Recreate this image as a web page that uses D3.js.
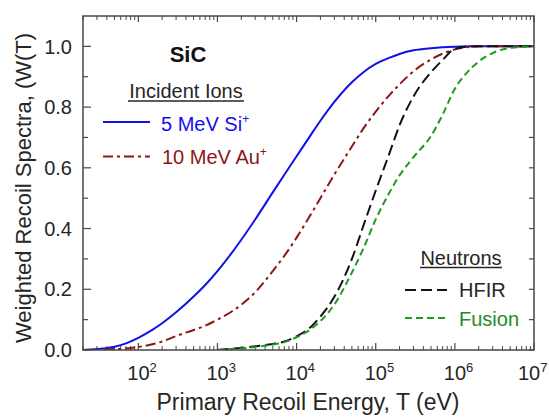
<!DOCTYPE html>
<html>
<head>
<meta charset="utf-8">
<script src="https://cdn.jsdelivr.net/npm/d3@7"></script>
<style>
  html, body { margin: 0; padding: 0; background: #fff; }
  svg { display: block; font-family: "Liberation Sans", Arial, sans-serif; }
</style>
</head>
<body>
<svg id="chart" width="549" height="419"></svg>
<script>
// Recoil energy grid (eV)
const energy = [20, 30, 50, 70, 1e2, 1.5e2, 2e2, 3e2, 5e2, 7e2,
  1e3, 1.5e3, 2e3, 3e3, 5e3, 7e3, 1e4, 1.5e4, 2e4, 3e4, 5e4, 7e4,
  1e5, 1.5e5, 2e5, 3e5, 5e5, 7e5, 1e6, 1.5e6, 2e6, 3e6, 5e6, 1e7];

// Weighted recoil spectra W(T)
const si5MeV = [0, 0.003, 0.011, 0.022, 0.04, 0.066, 0.088, 0.124, 0.176, 0.214,
  0.26, 0.318, 0.363, 0.43, 0.519, 0.577, 0.638, 0.707, 0.755, 0.817, 0.882, 0.915,
  0.942, 0.963, 0.975, 0.987, 0.994, 0.997, 0.999, 1.0, 1.0, 1.0, 1.0, 1.0];
const au10MeV = [0, 0.001, 0.003, 0.005, 0.01, 0.019, 0.028, 0.046, 0.066, 0.08,
  0.1, 0.126, 0.149, 0.19, 0.26, 0.31, 0.37, 0.445, 0.5, 0.578, 0.67, 0.73,
  0.785, 0.84, 0.875, 0.918, 0.957, 0.976, 0.99, 0.998, 1.0, 1.0, 1.0, 1.0];
const hfir = [null, null, null, null, null, null, null, null, null, null,
  0, 0.004, 0.007, 0.012, 0.02, 0.028, 0.045, 0.075, 0.11, 0.175, 0.3, 0.41,
  0.525, 0.65, 0.74, 0.835, 0.915, 0.955, 0.992, 0.999, 1.0, 1.0, 1.0, 1.0];
const fusion = [null, null, null, null, null, null, null, null, null, null,
  0, 0.003, 0.005, 0.01, 0.018, 0.026, 0.042, 0.068, 0.095, 0.15, 0.255, 0.335,
  0.43, 0.52, 0.575, 0.635, 0.705, 0.775, 0.86, 0.92, 0.95, 0.978, 0.995, 1.0];

const xTickExponents = [2, 3, 4, 5, 6, 7];
const yTickLabels = [0, 0.2, 0.4, 0.6, 0.8, 1.0];

const series = [
  { name: "5 MeV Si", values: si5MeV, color: "#1010ee", dash: null },
  { name: "10 MeV Au", values: au10MeV, color: "#8b1717", dash: "10,4,3,4" },
  { name: "HFIR", values: hfir, color: "#111111", dash: "11,5" },
  { name: "Fusion", values: fusion, color: "#1f9a1f", dash: "7,4" }
];

const svg = d3.select("#chart");
const margin = { left: 83, top: 16, right: 15, bottom: 69 };
const W = 549, H = 419;
const iw = W - margin.left - margin.right;
const ih = H - margin.top - margin.bottom;

const x = d3.scaleLog().domain([20, 1e7]).range([0, iw]);
const y = d3.scaleLinear().domain([0, 1.1]).range([ih, 0]);

const g = svg.append("g").attr("transform", `translate(${margin.left},${margin.top})`);
const axisColor = "#474747";
const textColor = "#262626";

svg.append("defs").append("clipPath").attr("id", "plotClip")
  .append("rect").attr("width", iw).attr("height", ih);

// minor and major x ticks, pointing into the plot
const minorX = [];
for (let e = 1; e < 7; e++) {
  for (let m = 2; m <= 9; m++) {
    const v = m * Math.pow(10, e);
    if (v >= 20 && v <= 1e7) minorX.push(v);
  }
}
const majorX = xTickExponents.map(e => Math.pow(10, e));

function drawXTicks(sel, yPos, dir, majLen, minLen) {
  sel.append("g").selectAll("line").data(minorX).join("line")
    .attr("x1", d => x(d)).attr("x2", d => x(d))
    .attr("y1", yPos).attr("y2", yPos + dir * minLen)
    .attr("stroke", axisColor).attr("stroke-width", 1);
  sel.append("g").selectAll("line").data(majorX).join("line")
    .attr("x1", d => x(d)).attr("x2", d => x(d))
    .attr("y1", yPos).attr("y2", yPos + dir * majLen)
    .attr("stroke", axisColor).attr("stroke-width", 1.2);
}
drawXTicks(g, ih, -1, 7, 4);
drawXTicks(g, 0, 1, 6, 4);

// y ticks every 0.1
const yTicksAll = d3.range(0, 11).map(i => i / 10);
g.append("g").selectAll("line").data(yTicksAll).join("line")
  .attr("x1", 0).attr("x2", (d, i) => i % 2 === 0 ? 8 : 5)
  .attr("y1", d => y(d)).attr("y2", d => y(d))
  .attr("stroke", axisColor).attr("stroke-width", 1.2);
g.append("g").selectAll("line").data(yTicksAll).join("line")
  .attr("x1", iw).attr("x2", iw - 5)
  .attr("y1", d => y(d)).attr("y2", d => y(d))
  .attr("stroke", axisColor).attr("stroke-width", 1.2);

// y tick labels
g.append("g").selectAll("text").data(yTickLabels).join("text")
  .attr("x", -11).attr("y", d => y(d)).attr("dy", "0.36em")
  .attr("text-anchor", "end").attr("font-size", 20).attr("fill", textColor)
  .text(d => d.toFixed(1));

// x tick labels: the "10" is centred on its tick, the exponent hangs to the right;
// the last one is nudged left so it stays inside the page
const xl = g.append("g").selectAll("text").data(xTickExponents).join("text")
  .attr("x", d => x(Math.pow(10, d)) - 11 - (d === 7 ? 5 : 0)).attr("y", ih + 30)
  .attr("font-size", 20).attr("fill", textColor);
xl.append("tspan").text("10");
xl.append("tspan").attr("dy", -8).attr("font-size", 13).text(d => d);

// curves
const line = d3.line()
  .defined(d => d[1] !== null)
  .x(d => x(d[0])).y(d => y(d[1]))
  .curve(d3.curveMonotoneX);

const curves = g.append("g").attr("clip-path", "url(#plotClip)");
series.forEach(s => {
  curves.append("path")
    .datum(energy.map((e, i) => [e, s.values[i]]))
    .attr("d", line)
    .attr("fill", "none")
    .attr("stroke", s.color)
    .attr("stroke-width", 2)
    .attr("stroke-dasharray", s.dash);
});

// frame
g.append("rect").attr("width", iw).attr("height", ih)
  .attr("fill", "none").attr("stroke", axisColor).attr("stroke-width", 1.5);

// axis titles
svg.append("text").attr("x", 308).attr("y", 410).attr("text-anchor", "middle")
  .attr("font-size", 23).attr("fill", textColor)
  .text("Primary Recoil Energy, T (eV)");
svg.append("text")
  .attr("transform", "translate(31,188) rotate(-90)")
  .attr("text-anchor", "middle").attr("font-size", 22).attr("fill", textColor)
  .text("Weighted Recoil Spectra, (W(T)");

// material label
svg.append("text").attr("x", 188).attr("y", 62).attr("text-anchor", "middle")
  .attr("font-size", 22).attr("font-weight", "bold").attr("fill", "#111").text("SiC");

// ion legend
svg.append("text").attr("x", 186).attr("y", 98).attr("text-anchor", "middle")
  .attr("font-size", 20).attr("fill", textColor).text("Incident Ions");
svg.append("line").attr("x1", 128).attr("x2", 244).attr("y1", 101).attr("y2", 101)
  .attr("stroke", textColor).attr("stroke-width", 1.3);

const ionLegend = [
  { s: series[0], label: "5 MeV Si", y: 122, tx: 161, base: 131 },
  { s: series[1], label: "10 MeV Au", y: 156.5, tx: 162, base: 164 }
];
ionLegend.forEach(L => {
  svg.append("line").attr("x1", 103).attr("x2", 150).attr("y1", L.y).attr("y2", L.y)
    .attr("stroke", L.s.color).attr("stroke-width", 2).attr("stroke-dasharray", L.s.dash);
  const t = svg.append("text").attr("x", L.tx).attr("y", L.base)
    .attr("font-size", 20).attr("fill", L.s.color);
  t.append("tspan").text(L.label);
  t.append("tspan").attr("dy", -8).attr("font-size", 12).text("+");
});

// neutron legend
svg.append("text").attr("x", 461).attr("y", 264.5).attr("text-anchor", "middle")
  .attr("font-size", 20).attr("fill", textColor).text("Neutrons");
svg.append("line").attr("x1", 420).attr("x2", 502).attr("y1", 267.5).attr("y2", 267.5)
  .attr("stroke", textColor).attr("stroke-width", 1.3);

const nLegend = [
  { s: series[2], label: "HFIR", y: 290, base: 297, color: textColor },
  { s: series[3], label: "Fusion", y: 318, base: 326, color: "#24892a" }
];
nLegend.forEach(L => {
  svg.append("line").attr("x1", 405).attr("x2", 447).attr("y1", L.y).attr("y2", L.y)
    .attr("stroke", L.s.color).attr("stroke-width", 2).attr("stroke-dasharray", L.s.dash);
  svg.append("text").attr("x", 459).attr("y", L.base)
    .attr("font-size", 20).attr("fill", L.color).text(L.label);
});
</script>
</body>
</html>
